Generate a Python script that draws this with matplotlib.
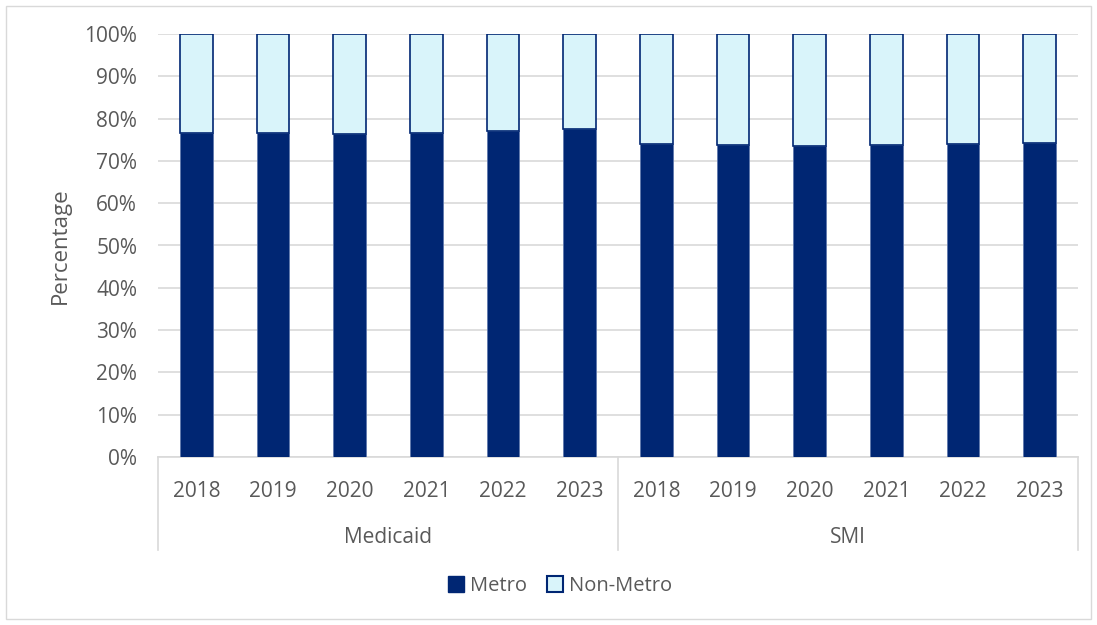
import matplotlib
matplotlib.use('Agg')
import matplotlib.pyplot as plt
from matplotlib.patches import Patch, Rectangle
import numpy as np

# Share of members by residence, per program and year
groups = ['Medicaid', 'SMI']
years = ['2018', '2019', '2020', '2021', '2022', '2023']
metro_medicaid = [76.7, 76.5, 76.4, 76.7, 77.1, 77.6]
metro_smi = [74.1, 73.8, 73.5, 73.8, 74.0, 74.2]

metro = np.array(metro_medicaid + metro_smi)
non_metro = 100 - metro
labels = years * len(groups)

NAVY = '#002673'
LIGHT = '#D9F4FA'
GRID = '#D9D9D9'
TEXT = '#595959'

plt.rcParams['font.family'] = ['Open Sans', 'DejaVu Sans']

W, H = 1097, 625
fig = plt.figure(figsize=(W / 100, H / 100), dpi=100)
fig.patches.append(Rectangle((6 / W, 6 / H), 1085 / W, 613 / H, transform=fig.transFigure,
                             fill=False, edgecolor=GRID, linewidth=1.0))

ax = fig.add_axes([158 / W, (H - 457) / H, 920 / W, 423 / H])
x = np.arange(len(metro))
ax.bar(x, metro, width=0.43, color=NAVY, edgecolor='#5F78AD', linewidth=0.6, zorder=3)
ax.bar(x, non_metro, bottom=metro, width=0.43, color=LIGHT, edgecolor=NAVY,
       linewidth=1.2, zorder=3)

ax.set_xlim(-0.5, len(metro) - 0.5)
ax.set_ylim(0, 100)
ax.set_yticks(range(0, 101, 10))
ax.set_yticklabels([f'{v}%' for v in range(0, 101, 10)])
ax.yaxis.grid(True, color=GRID, linewidth=1.2, zorder=0)
ax.set_axisbelow(True)
for s in ['top', 'right', 'left']:
    ax.spines[s].set_visible(False)
ax.spines['bottom'].set_color(GRID)
ax.spines['bottom'].set_linewidth(1.2)

ax.set_xticks(x)
ax.set_xticklabels(labels)
ax.tick_params(axis='both', length=0, labelsize=15, colors=TEXT)
ax.tick_params(axis='x', pad=17)
ax.tick_params(axis='y', pad=15)
ax.set_ylabel('Percentage', fontsize=16, color=TEXT, labelpad=10)

# group separators and group labels under the year labels
tr = ax.get_xaxis_transform()
n = len(years)
for k in range(len(groups) + 1):
    xs = k * n - 0.5
    ax.plot([xs, xs], [0, -0.22], transform=tr, color=GRID, linewidth=1.2, clip_on=False)
for k, g in enumerate(groups):
    ax.text(k * n + (n - 1) / 2, -0.19, g, transform=tr, ha='center', va='center',
            fontsize=15, color=TEXT)

handles = [Patch(facecolor=NAVY, edgecolor=NAVY, label='Metro'),
           Patch(facecolor=LIGHT, edgecolor=NAVY, linewidth=1.5, label='Non-Metro')]
leg = fig.legend(handles=handles, loc='center', bbox_to_anchor=(560 / W, 1 - 586 / H), ncol=2,
                 frameon=False, fontsize=14.5, handlelength=0.8, handleheight=0.8,
                 handletextpad=0.3, columnspacing=1.0)
for t in leg.get_texts():
    t.set_color(TEXT)

fig.savefig('out.png', dpi=100)
